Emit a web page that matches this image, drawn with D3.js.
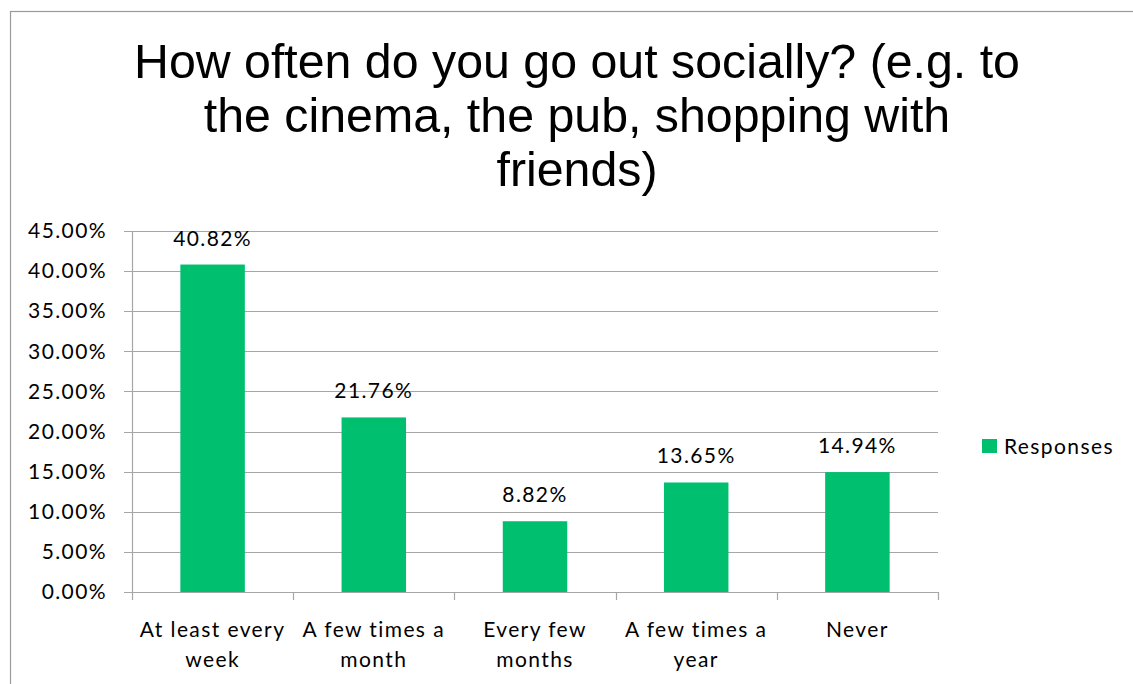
<!DOCTYPE html>
<html>
<head>
<meta charset="utf-8">
<script src="https://cdn.jsdelivr.net/npm/d3@7"></script>
<style>
  html, body { margin: 0; padding: 0; background: #fff; }
  svg { display: block; }
</style>
</head>
<body>
<svg id="chart" width="1133" height="684"></svg>
<script>
// Survey answers and their share of responses (percent)
const categories = [
  ["At least every", "week"],
  ["A few times a", "month"],
  ["Every few", "months"],
  ["A few times a", "year"],
  ["Never"]
];
const responses = [40.82, 21.76, 8.82, 13.65, 14.94];
const yTicks = [0, 5, 10, 15, 20, 25, 30, 35, 40, 45];
const titleLines = [
  "How often do you go out socially? (e.g. to",
  "the cinema, the pub, shopping with",
  "friends)"
];
const seriesName = "Responses";

const barColor = "#00bf6f";
const gridColor = "#a6a6a6";
const bodyFont = "Lato, 'Open Sans', sans-serif";
const bodySize = 21;
const bodySpacing = "1.4px";

const svg = d3.select("#chart");

// outer chart frame
svg.append("rect")
  .attr("x", 10.5).attr("y", 11.5)
  .attr("width", 1140).attr("height", 700)
  .attr("fill", "none").attr("stroke", "#9a9a9a").attr("stroke-width", 1.2);

// title
svg.append("g")
  .selectAll("text")
  .data(titleLines)
  .join("text")
  .attr("x", 577)
  .attr("y", (d, i) => 78 + i * 54)
  .attr("text-anchor", "middle")
  .attr("font-family", "'Liberation Sans', Arial, sans-serif")
  .attr("font-size", 48.3)
  .attr("fill", "#000")
  .text(d => d);

const plot = { left: 132, right: 938, top: 231, bottom: 592 };

const x = d3.scaleBand()
  .domain(d3.range(categories.length))
  .range([plot.left, plot.right])
  .paddingInner(0.6)
  .paddingOuter(0.3);

const xOuter = d3.scaleBand()
  .domain(d3.range(categories.length))
  .range([plot.left, plot.right]);

const y = d3.scaleLinear().domain([0, 45]).range([plot.bottom, plot.top]);

function bodyText(sel) {
  sel.attr("font-family", bodyFont)
    .attr("font-size", bodySize)
    .attr("letter-spacing", bodySpacing)
    .attr("fill", "#000");
}

// horizontal gridlines
svg.append("g")
  .selectAll("line")
  .data(yTicks)
  .join("line")
  .attr("x1", plot.left - 8).attr("x2", plot.right)
  .attr("y1", d => Math.round(y(d)) + 0.5)
  .attr("y2", d => Math.round(y(d)) + 0.5)
  .attr("stroke", gridColor).attr("stroke-width", 1.2);

// y axis labels
const yAxis = d3.axisLeft(y)
  .tickValues(yTicks)
  .tickSize(0)
  .tickPadding(0)
  .tickFormat(d => d.toFixed(2) + "%");
const yg = svg.append("g")
  .attr("transform", `translate(${plot.left - 25},0)`)
  .call(yAxis);
yg.select(".domain").remove();
yg.selectAll("text").call(bodyText);

// bars
svg.append("g")
  .selectAll("rect")
  .data(responses)
  .join("rect")
  .attr("x", (d, i) => x(i))
  .attr("y", d => y(d))
  .attr("width", x.bandwidth())
  .attr("height", d => y(0) - y(d))
  .attr("fill", barColor);

// value labels
svg.append("g")
  .selectAll("text")
  .data(responses)
  .join("text")
  .attr("x", (d, i) => x(i) + x.bandwidth() / 2)
  .attr("y", d => y(d) - 19)
  .attr("text-anchor", "middle")
  .call(bodyText)
  .text(d => d.toFixed(2) + "%");

// y axis line
svg.append("line")
  .attr("x1", plot.left + 0.5).attr("x2", plot.left + 0.5)
  .attr("y1", plot.top).attr("y2", plot.bottom + 8)
  .attr("stroke", gridColor).attr("stroke-width", 1.2);

// x axis line with category separators
svg.append("line")
  .attr("x1", plot.left).attr("x2", plot.right)
  .attr("y1", plot.bottom + 0.5).attr("y2", plot.bottom + 0.5)
  .attr("stroke", gridColor).attr("stroke-width", 1.2);
svg.append("g")
  .selectAll("line")
  .data(d3.range(1, categories.length + 1))
  .join("line")
  .attr("x1", i => Math.round(plot.left + xOuter.step() * i) + 0.5)
  .attr("x2", i => Math.round(plot.left + xOuter.step() * i) + 0.5)
  .attr("y1", plot.bottom).attr("y2", plot.bottom + 8)
  .attr("stroke", gridColor).attr("stroke-width", 1.2);

// category labels
const cat = svg.append("g")
  .selectAll("text")
  .data(categories)
  .join("text")
  .attr("text-anchor", "middle")
  .call(bodyText);
cat.selectAll("tspan")
  .data((d, i) => d.map(line => ({ line, i })))
  .join("tspan")
  .attr("x", d => xOuter(d.i) + xOuter.bandwidth() / 2)
  .attr("y", (d, j) => 637 + j * 30)
  .text(d => d.line);

// legend
const legend = svg.append("g").attr("transform", "translate(982,439)");
legend.append("rect")
  .attr("width", 15).attr("height", 14)
  .attr("fill", barColor);
legend.append("text")
  .attr("x", 22).attr("y", 14.5)
  .call(bodyText)
  .text(seriesName);
</script>
</body>
</html>
